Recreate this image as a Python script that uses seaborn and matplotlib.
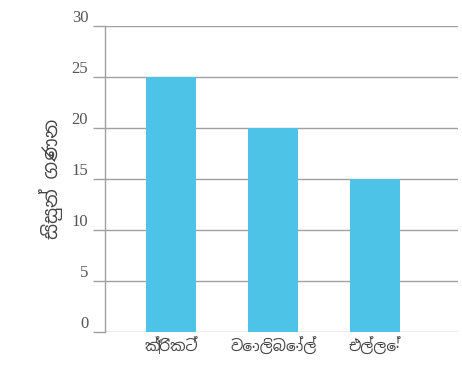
import matplotlib
matplotlib.use("Agg")
import matplotlib.pyplot as plt
from matplotlib import font_manager
import seaborn as sns
import pandas as pd

# data
sports = ["ක්‍රිකට්", "වොලිබෝල්", "එල්ලේ"]
students = [25, 20, 15]
y_ticks = [0, 5, 10, 15, 20, 25, 30]
y_label = "සිසුන් ගණන"

# pick a font that has Sinhala glyphs if one is installed
sinhala_fonts = sorted({f.name for f in font_manager.fontManager.ttflist if "Sinhala" in f.name})
text_family = sinhala_fonts[:1] + ["Noto Sans", "DejaVu Sans"]

sns.set_style("white")
plt.rcParams["font.family"] = ["Liberation Serif", "DejaVu Serif"]

df = pd.DataFrame({"sport": sports, "students": students})

fig = plt.figure(figsize=(4.62, 3.72), dpi=100)
ax = fig.add_axes([0.227, 0.108, 0.764, 0.822])
sns.barplot(data=df, x="sport", y="students", color="#4dc3e8", width=0.49,
            saturation=1, linewidth=0, ax=ax, zorder=3)

ax.set_ylim(0, 30)
ax.set_xlim(-0.65, 2.81)
ax.set_yticks(y_ticks)
ax.set_yticklabels([str(v) for v in y_ticks], fontsize=12, color="#555555", va="bottom")
ax.tick_params(axis="y", left=True, length=9, width=1, color="#a0a0a0", pad=3)
ax.tick_params(axis="x", bottom=False, length=0, pad=4)
ax.yaxis.grid(True, color="#a0a0a0", linewidth=1)
ax.set_axisbelow(True)

for s in ["top", "right", "bottom"]:
    ax.spines[s].set_visible(False)
ax.spines["left"].set_color("#a0a0a0")
ax.spines["left"].set_linewidth(1)

ax.set_xticks(range(len(sports)))
ax.set_xticklabels(sports, fontsize=11, color="#444444", family=text_family)
ax.set_xlabel("")
ax.set_ylabel(y_label, fontsize=14, color="#444444", family=text_family, labelpad=6)

fig.savefig("out.png", dpi=100)
